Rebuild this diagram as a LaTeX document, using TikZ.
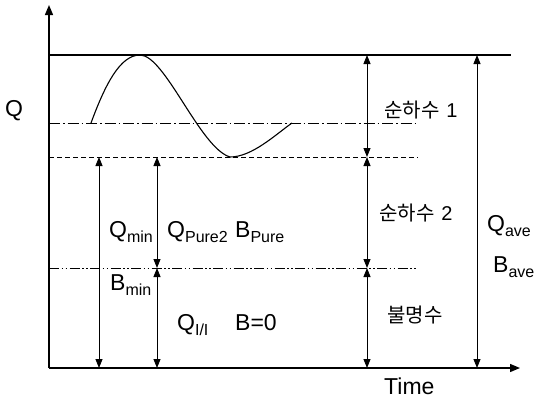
\documentclass[tikz,border=0pt]{standalone}
\usepackage{fontspec}
\setmainfont{Liberation Sans}
\newfontfamily\krfont{Noto Sans CJK KR}
\usetikzlibrary{arrows.meta}
\newcommand{\subtx}[1]{\raisebox{-5pt}{\fontsize{16}{16}\selectfont #1}}
\newcommand{\krdigit}[1]{\hspace*{7pt}{\normalfont\fontsize{20}{20}\selectfont #1}}
\tikzset{
  lbl/.style={anchor=base west, inner sep=0pt, font=\fontsize{23}{23}\selectfont},
  krlbl/.style={anchor=base west, inner sep=0pt, font=\krfont\fontsize{20}{20}\selectfont},
  axis/.style={line width=1.4pt, -{Triangle[length=10pt,width=8pt]}},
  dim/.style={line width=0.9pt, {Triangle[length=9pt,width=7pt]}-{Triangle[length=9pt,width=7pt]}},
  dashline/.style={line width=0.9pt, dash pattern=on 5pt off 3pt},
  dashdot/.style={line width=0.9pt, dash pattern=on 11pt off 3pt on 1.5pt off 3pt},
  dashdotdot/.style={line width=0.9pt, dash pattern=on 10pt off 2.5pt on 1.5pt off 2.5pt on 1.5pt off 2.5pt},
}
\begin{document}
\begin{tikzpicture}[x=1pt,y=-1pt]
\useasboundingbox (0,0) rectangle (535,399);
% levels
\coordinate (O) at (49,368);
\coordinate (ytip) at (49,5);
\coordinate (xtip) at (520,368);
\coordinate (topL) at (49,55);
\coordinate (topR) at (511,55);
\coordinate (ddL) at (49,123);
\coordinate (ddR) at (415,123);
\coordinate (dsL) at (49,157);
\coordinate (dsR) at (418,157);
\coordinate (lwL) at (49,268);
\coordinate (lwR) at (417,268);
% arrow end points
\coordinate (a1t) at (99,157);
\coordinate (a1b) at (99,368);
\coordinate (a2t) at (157,157);
\coordinate (a2m) at (157,268);
\coordinate (a2b) at (157,368);
\coordinate (a3t) at (367,55);
\coordinate (a3u) at (367,157);
\coordinate (a3m) at (367,268);
\coordinate (a3b) at (367,368);
\coordinate (a4t) at (477,55);
\coordinate (a4b) at (477,368);
% axes
\draw[axis] (O) -- (ytip);
\draw[axis] (O) -- (xtip);
% horizontal lines
\draw[line width=1.1pt] (topL) -- (topR);
\draw[dashdot] (ddL) -- (ddR);
\draw[dashline] (dsL) -- (dsR);
\draw[dashdotdot] (lwL) -- (lwR);
% curve
\coordinate (c0) at (91,123);
\coordinate (c1) at (140,55);
\coordinate (c2) at (230,157);
\coordinate (c3) at (292,123);
\draw[line width=1.1pt] (c0) .. controls (105,85) and (120,55) .. (c1)
  .. controls (165,55) and (200,148) .. (c2)
  .. controls (252,157) and (275,135) .. (c3);
% dimension arrows
\draw[dim] (a1t) -- (a1b);
\draw[dim] (a2t) -- (a2m);
\draw[dim] (a2m) -- (a2b);
\draw[dim] (a3t) -- (a3u);
\draw[dim] (a3u) -- (a3m);
\draw[dim] (a3m) -- (a3b);
\draw[dim] (a4t) -- (a4b);
% labels
\node[lbl] (Q) at (5,116) {Q};
\node[lbl] (Qmin) at (109,237) {Q\subtx{min}};
\node[lbl] (Qpure) at (167,237) {Q\subtx{Pure2}};
\node[lbl] (Bpure) at (235,237) {B\subtx{Pure}};
\node[lbl] (Bmin) at (110,290) {B\subtx{min}};
\node[lbl] (Qii) at (177,330) {Q\subtx{I/I}};
\node[lbl] (B0) at (235,330) {B=0};
\node[lbl] (Qave) at (487,231) {Q\subtx{ave}};
\node[lbl] (Bave) at (493,272) {B\subtx{ave}};
\node[lbl] (time) at (384,394) {Time};
\node[krlbl] (s1) at (384,117) {순하수\krdigit{1}};
\node[krlbl] (s2) at (379,220) {순하수\krdigit{2}};
\node[krlbl] (s3) at (387,322) {불명수};
\end{tikzpicture}
\end{document}
